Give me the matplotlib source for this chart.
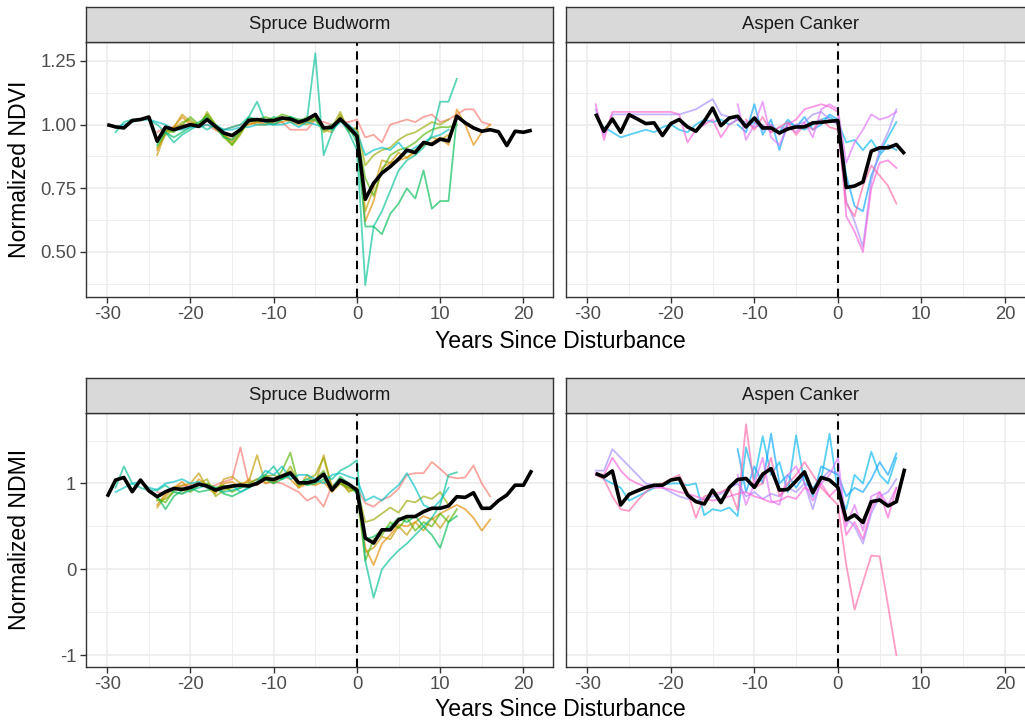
import matplotlib
matplotlib.use("Agg")
import matplotlib.pyplot as plt
import numpy as np

plt.rcParams['font.family'] = ['Liberation Sans', 'DejaVu Sans']
plt.rcParams['axes.unicode_minus'] = False

# ---------------------------------------------------------------- data
facets = ["Spruce Budworm", "Aspen Canker"]
x_label = "Years Since Disturbance"
y_labels = ["Normalized NDVI", "Normalized NDMI"]
x_ticks = [-30, -20, -10, 0, 10, 20]
ndvi_ticks = [0.50, 0.75, 1.00, 1.25]
ndmi_ticks = [-1, 0, 1]

# mean trajectories (black)
sb_mean_start = -30
sb_ndvi_mean = [1.00, 0.991, 0.987, 1.016, 1.02, 1.03, 0.935, 0.99, 0.98, 0.99,
                1.00, 0.993, 1.02, 0.993, 0.967, 0.957, 0.98, 1.017, 1.02, 1.016,
                1.016, 1.026, 1.022, 1.009, 1.02, 1.04, 0.987, 0.99, 1.022, 0.99,
                0.955, 0.707, 0.77, 0.81, 0.835, 0.865, 0.90, 0.89, 0.93, 0.922,
                0.943, 0.936, 1.033, 1.007, 0.987, 0.974, 0.98, 0.972, 0.918, 0.974,
                0.97, 0.978]
sb_ndmi_mean = [0.846, 1.04, 1.07, 0.904, 1.04, 0.915, 0.846, 0.904, 0.942, 0.93,
                0.954, 0.992, 0.97, 0.923, 0.954, 0.97, 0.98, 0.97, 1.00, 1.058,
                1.046, 1.085, 1.123, 1.008, 1.008, 1.03, 1.108, 0.923, 1.04, 0.992,
                0.923, 0.364, 0.306, 0.46, 0.46, 0.576, 0.615, 0.615, 0.672, 0.711,
                0.711, 0.738, 0.846, 0.838, 0.892, 0.711, 0.711, 0.80, 0.865, 0.98,
                0.98, 1.154]
ac_mean_start = -29
ac_ndvi_mean = [1.043, 0.974, 1.022, 0.97, 1.039, 1.022, 1.004, 1.007, 0.957, 1.004,
                1.02, 0.991, 0.974, 1.013, 1.065, 0.996, 1.026, 1.033, 0.991, 1.026,
                0.987, 0.987, 0.967, 0.983, 0.991, 0.991, 1.007, 1.009, 1.013, 1.016,
                0.753, 0.759, 0.775, 0.896, 0.909, 0.909, 0.922, 0.885]
ac_ndmi_mean = [1.116, 1.077, 1.146, 0.75, 0.873, 0.915, 0.954, 0.98, 0.98, 1.04,
                1.058, 0.865, 0.788, 0.761, 0.923, 0.777, 0.954, 1.046, 1.058, 0.954,
                1.108, 1.173, 0.923, 0.93, 1.03, 1.135, 0.892, 1.07, 1.04, 0.954,
                0.576, 0.634, 0.545, 0.788, 0.807, 0.738, 0.788, 1.173]

# Spruce Budworm sites: first year of each series
sb_ndvi_starts = [-24, -24, -24, -24, -24, -24, -29, -29]
sb_ndmi_starts = [-24, -24, -24, -24, -24, -24, -29, -29]

sb_ndvi_s1 = [0.97, 0.99, 0.99, 1.00, 1.00, 0.99, 1.00, 0.98, 0.98, 0.99, 1.00, 1.00,
              1.01, 1.01, 1.00, 1.01, 0.98, 0.98, 0.98, 1.02, 1.01, 1.00, 1.01, 1.01,
              1.02, 0.95, 0.96, 0.93, 1.00, 1.01, 1.02, 1.01, 1.03, 1.04, 1.01, 1.02,
              1.04, 1.06, 1.06, 1.01, 1.00]
sb_ndvi_s2 = [0.90, 0.97, 0.99, 1.03, 1.00, 0.99, 1.03, 0.98, 0.96, 0.94, 0.98, 1.00,
              1.01, 1.00, 1.02, 1.01, 1.02, 1.02, 1.01, 1.02, 0.99, 0.98, 1.02, 0.99,
              0.98, 0.62, 0.70, 0.83, 0.85, 0.86, 0.87, 0.89, 0.92, 0.93, 0.95, 0.92,
              1.06, 1.00, 0.92, 0.97, 1.00]
sb_ndvi_s3 = [0.88, 0.97, 0.99, 1.04, 1.01, 1.00, 1.04, 0.99, 0.96, 0.93, 0.97, 1.01,
              1.00, 1.00, 1.01, 1.03, 1.01, 1.00, 1.01, 1.03, 0.98, 0.97, 1.04, 0.98,
              0.97, 0.66, 0.75, 0.86, 0.85, 0.89, 0.87, 0.90, 0.92, 0.95, 0.94, 0.96]
sb_ndvi_s4 = [0.91, 0.96, 0.98, 1.01, 1.02, 0.99, 1.05, 1.00, 0.95, 0.92, 0.96, 1.02,
              1.01, 1.02, 1.00, 1.02, 1.03, 1.01, 1.00, 1.02, 0.97, 0.99, 1.05, 0.97,
              0.99, 0.84, 0.88, 0.90, 0.91, 0.94, 0.96, 0.97, 0.99, 1.01, 1.00, 1.02]
sb_ndvi_s5 = [0.93, 0.98, 0.97, 1.00, 1.03, 1.00, 1.04, 1.00, 0.96, 0.92, 0.97, 1.01,
              1.02, 1.03, 1.02, 1.04, 1.03, 1.01, 1.03, 1.03, 0.99, 0.98, 1.03, 0.98,
              0.96, 0.79, 0.72, 0.82, 0.88, 0.90, 0.91, 0.93, 0.96, 0.98, 0.99, 0.99, 1.00]
sb_ndvi_s6 = [0.92, 0.97, 0.95, 0.97, 0.99, 1.01, 1.03, 0.99, 0.95, 0.94, 0.98, 1.03,
              1.02, 1.01, 1.03, 1.02, 1.03, 1.02, 1.02, 1.02, 0.98, 1.00, 1.02, 0.99,
              0.93, 0.60, 0.60, 0.57, 0.65, 0.69, 0.75, 0.71, 0.82, 0.67, 0.70, 0.70, 1.03]
sb_ndvi_s7 = [0.97, 1.01, 1.02, 1.02, 1.02, 1.00, 0.97, 0.93, 0.96, 0.98, 1.00, 0.98,
              1.00, 0.98, 0.99, 1.00, 1.03, 1.09, 1.01, 1.00, 1.02, 1.03, 1.01, 1.02,
              1.28, 0.88, 0.97, 1.02, 0.97,
              0.90, 0.37, 0.60, 0.66, 0.74, 0.82, 0.86, 0.88, 0.91, 0.96, 1.09, 1.09, 1.18]
sb_ndvi_s8 = [0.99, 1.00, 1.01, 1.02, 1.02, 1.01, 1.00, 0.98, 0.98, 0.99, 0.99, 1.00,
              0.99, 0.98, 0.98, 0.99, 0.99, 1.00, 1.00, 1.00, 1.00, 1.01, 0.99, 1.01,
              1.00, 0.99, 0.98, 1.01, 1.00,
              0.97, 0.88, 0.90, 0.91, 0.90, 0.93, 0.89, 0.91, 0.93, 0.95, 0.96, 0.98]

sb_ndmi_s1 = [0.90, 0.88, 0.95, 0.97, 0.98, 1.00, 0.95, 0.98, 1.02, 1.05, 1.42, 1.00,
              1.05, 1.00, 1.02, 1.00, 0.95, 0.90, 0.80, 0.85, 0.73, 0.98, 1.00, 0.95,
              0.95, 0.77, 0.73, 0.81, 0.85, 0.94, 1.10, 1.12, 1.12, 1.25, 1.17, 1.08,
              1.06, 1.07, 1.21, 1.00, 0.85]
sb_ndmi_s2 = [0.75, 0.88, 0.95, 1.02, 0.92, 1.05, 0.98, 0.90, 1.00, 1.02, 0.95, 1.05,
              0.98, 1.05, 1.00, 1.10, 1.05, 0.95, 1.00, 0.98, 1.02, 0.90, 1.00, 0.92,
              0.92, 0.25, 0.05, 0.30, 0.40, 0.52, 0.50, 0.55, 0.62, 0.58, 0.65, 0.70,
              0.75, 0.70, 0.60, 0.45, 0.58]
sb_ndmi_s3 = [0.72, 0.85, 0.95, 0.98, 1.00, 1.12, 0.95, 0.88, 1.05, 1.08, 1.00, 1.02,
              1.33, 1.00, 1.05, 1.10, 1.15, 0.95, 1.10, 1.00, 1.33, 0.95, 1.02, 0.95,
              0.93, 0.20, 0.25, 0.38, 0.35, 0.50, 0.40, 0.55, 0.45, 0.60, 0.48, 0.62]
sb_ndmi_s4 = [0.80, 0.82, 0.90, 0.88, 0.95, 1.00, 1.05, 0.85, 0.92, 0.95, 1.00, 0.95,
              1.02, 1.08, 1.10, 1.05, 1.20, 1.00, 1.05, 1.10, 1.30, 0.95, 1.05, 0.90,
              0.95, 0.55, 0.58, 0.65, 0.72, 0.66, 0.80, 0.78, 0.85, 0.82, 0.90, 0.75]
sb_ndmi_s5 = [0.82, 0.78, 0.92, 0.95, 0.90, 0.98, 1.00, 0.95, 0.98, 0.90, 0.95, 1.00,
              1.05, 1.10, 1.02, 1.15, 1.36, 0.98, 1.00, 1.05, 1.15, 0.92, 1.00, 0.95,
              0.90, 0.10, 0.35, 0.40, 0.55, 0.48, 0.60, 0.45, 0.55, 0.50, 0.65, 0.55, 0.70]
sb_ndmi_s6 = [0.85, 0.70, 0.85, 0.92, 0.95, 0.90, 0.92, 0.95, 0.88, 0.85, 0.90, 0.95,
              1.00, 1.05, 1.00, 1.05, 1.10, 1.02, 0.98, 1.00, 1.05, 0.95, 1.08, 1.00,
              0.88, 0.35, 0.38, 0.45, 0.50, 0.60, 0.55, 0.62, 0.50, 0.40, 0.25, 0.55, 0.62]
sb_ndmi_s7 = [0.95, 1.20, 1.00, 0.95, 0.92, 0.92, 0.98, 0.90, 0.88, 0.92, 0.95, 0.98,
              0.95, 0.90, 0.92, 0.95, 0.98, 1.00, 1.10, 1.20, 1.05, 1.10, 1.00, 1.05,
              1.02, 1.10, 1.05, 1.15, 1.20,
              1.27, 0.10, -0.33, 0.00, 0.12, 0.22, 0.30, 0.40, 0.50, 0.60, 0.75, 1.10, 1.13]
sb_ndmi_s8 = [0.90, 0.95, 1.00, 1.02, 0.95, 0.93, 1.00, 1.02, 1.05, 1.00, 1.02, 0.95,
              0.92, 0.95, 0.98, 0.90, 0.95, 1.02, 1.15, 1.10, 1.20, 1.05, 1.10, 1.10,
              1.05, 1.00, 1.10, 1.12, 1.08,
              1.05, 0.80, 0.85, 0.80, 0.90, 0.98, 1.12, 0.95, 0.75, 0.70, 0.80, 0.95]

# Aspen Canker sites
ac_ndvi_starts = [-28, -12, -29, -12, -29, -11]
ac_ndmi_starts = [-28, -12, -29, -12, -29, -29]

ac_ndvi_s1 = [0.99, 0.97, 0.95, 0.96, 0.97, 0.98, 0.97, 0.99, 1.00, 0.98, 0.97, 1.00,
              1.02, 1.01, 1.02, 1.00, 1.02, 0.99, 1.01, 0.98, 1.00, 0.97, 1.02, 0.99,
              0.98, 1.00, 1.02, 1.03,
              1.01, 0.93, 0.94, 0.90, 0.94, 0.89, 0.95, 1.01]
ac_ndvi_s2 = [1.00, 0.97, 1.08, 0.96, 1.02, 0.90, 1.01, 0.99, 1.03, 0.98, 1.00, 1.04,
              1.02, 0.80, 0.68, 0.66, 0.80, 0.88, 0.92, 0.90]
ac_ndvi_s3 = [1.06, 0.96, 1.04, 1.04, 1.04, 1.04, 1.04, 1.04, 1.04, 1.04, 1.04, 1.05,
              1.06, 1.08, 1.10, 1.04, 1.03, 1.02, 1.01, 0.99, 1.00, 0.97, 0.99, 0.98,
              1.00, 1.01, 1.04, 1.05, 1.02,
              1.00, 0.70, 0.62, 0.52, 0.78, 0.90, 0.97, 1.06]
ac_ndvi_s4 = [1.08, 0.94, 1.00, 1.09, 0.95, 0.92, 0.99, 0.97, 1.01, 0.95, 1.06, 1.08,
              1.06, 0.85, 0.93, 0.98, 1.04, 1.02, 1.03, 1.05]
ac_ndvi_s5 = [1.08, 0.94, 1.05, 1.05, 1.05, 1.05, 1.05, 1.05, 1.05, 1.05, 1.04, 0.93,
              0.98, 1.00, 1.02, 0.95, 1.00, 1.02, 1.00, 1.02, 0.98, 1.00, 0.96, 1.00,
              1.02, 1.06, 1.07, 1.08, 1.07,
              1.05, 0.64, 0.58, 0.50, 0.75, 0.85, 0.86, 0.83]
ac_ndvi_s6 = [1.02, 0.98, 1.03, 0.97, 0.99, 1.01, 0.96, 1.00, 0.98, 1.02, 0.99,
              0.98, 0.69, 0.64, 0.76, 0.84, 0.80, 0.76, 0.69]

ac_ndmi_s1 = [1.05, 1.00, 0.95, 0.80, 0.85, 0.90, 0.95, 0.98, 1.00, 1.00, 0.98, 1.00,
              0.63, 0.70, 0.68, 0.72, 0.62, 1.42, 1.05, 1.55, 1.10, 1.25, 0.90, 1.56,
              1.00, 0.95, 1.05, 1.58,
              0.90, 0.70, 1.10, 1.00, 1.37, 1.10, 1.00, 1.30]
ac_ndmi_s2 = [1.40, 0.90, 1.20, 1.00, 1.58, 1.00, 1.10, 0.95, 1.10, 0.85, 1.20, 1.15,
              1.10, 0.85, 0.95, 0.90, 1.05, 1.25, 1.10, 1.35]
ac_ndmi_s3 = [1.15, 1.15, 1.40, 1.30, 1.20, 1.10, 1.00, 0.98, 0.95, 0.90, 0.85, 0.82,
              0.80, 0.82, 0.85, 0.88, 0.95, 1.00, 0.85, 0.90, 0.82, 0.88, 0.85, 0.95,
              0.90, 1.00, 0.70, 1.05, 1.15,
              1.12, 0.60, 0.50, 0.30, 0.65, 0.85, 0.90, 1.05]
ac_ndmi_s4 = [1.10, 0.75, 1.00, 1.30, 0.80, 0.75, 1.10, 1.20, 1.00, 0.80, 1.00, 1.10,
              1.30, 0.50, 0.75, 0.45, 0.85, 0.90, 0.75, 0.95]
ac_ndmi_s5 = [1.12, 1.10, 1.30, 1.15, 1.05, 1.00, 0.96, 0.95, 0.95, 0.93, 0.90, 0.88,
              0.85, 0.82, 0.80, 0.82, 0.85, 0.88, 0.90, 0.85, 0.82, 0.78, 0.80, 0.85,
              0.82, 0.95, 0.90, 1.00, 0.85,
              0.95, 0.40, 0.55, 0.35, 0.70, 0.90, 0.60, 0.95]
ac_ndmi_s6 = [1.10, 1.05, 0.85, 0.70, 0.68, 0.80, 0.90, 0.98, 1.00, 1.05, 1.10, 0.90,
              0.60, 0.85, 0.88, 0.90, 0.95, 0.69, 1.69, 0.95, 1.00, 1.30, 0.85, 1.00,
              1.10, 1.25, 1.10, 0.95, 0.85,
              0.75, 0.05, -0.47, -0.15, 0.16, 0.15, -0.42, -1.00]

sb_ndvi = [sb_ndvi_s1, sb_ndvi_s2, sb_ndvi_s3, sb_ndvi_s4, sb_ndvi_s5, sb_ndvi_s6, sb_ndvi_s7, sb_ndvi_s8]
sb_ndmi = [sb_ndmi_s1, sb_ndmi_s2, sb_ndmi_s3, sb_ndmi_s4, sb_ndmi_s5, sb_ndmi_s6, sb_ndmi_s7, sb_ndmi_s8]
ac_ndvi = [ac_ndvi_s1, ac_ndvi_s2, ac_ndvi_s3, ac_ndvi_s4, ac_ndvi_s5, ac_ndvi_s6]
ac_ndmi = [ac_ndmi_s1, ac_ndmi_s2, ac_ndmi_s3, ac_ndmi_s4, ac_ndmi_s5, ac_ndmi_s6]

# ---------------------------------------------------------------- style
sb_colors = ["#F8766D", "#E38900", "#C49A00", "#99A800", "#53B400", "#00BC56", "#00C094", "#00BFC4"]
ac_colors = ["#00B6EB", "#06A4FF", "#A58AFF", "#DF70F8", "#FB61D7", "#FF66A8"]

W, H = 1025, 724
fig = plt.figure(figsize=(W / 100, H / 100), dpi=100)
fig.patch.set_facecolor("white")


def px_axes(x0, y0, x1, y1):
    return fig.add_axes([x0 / W, 1 - y1 / H, (x1 - x0) / W, (y1 - y0) / H])


def years(start, vals):
    return np.arange(start, start + len(vals))


def expand(values):
    lo, hi = min(values), max(values)
    d = (hi - lo) * 0.05
    return lo - d, hi + d


all_x = []
for st, s in zip(sb_ndvi_starts + sb_ndmi_starts + ac_ndvi_starts + ac_ndmi_starts,
                 sb_ndvi + sb_ndmi + ac_ndvi + ac_ndmi):
    all_x += list(years(st, s))
all_x += list(years(sb_mean_start, sb_ndvi_mean)) + list(years(ac_mean_start, ac_ndvi_mean))
xlim = expand(all_x)

ndvi_all = sum(sb_ndvi + ac_ndvi, []) + sb_ndvi_mean + ac_ndvi_mean
ndmi_all = sum(sb_ndmi + ac_ndmi, []) + sb_ndmi_mean + ac_ndmi_mean
ylim_ndvi = expand(ndvi_all)
ylim_ndmi = expand(ndmi_all)

PANEL_X = [(86, 553), (566, 1034.6)]
ROWS = [dict(strip=(6.5, 41.7), panel=(41.7, 296.7), xtitle_y=341),
        dict(strip=(377.5, 412.7), panel=(412.7, 666.7), xtitle_y=710)]


def draw_panel(ax, series, starts, colors, mean_start, mean, ylim, yticks, ymin, fmt, left):
    ax.set_xlim(xlim)
    ax.set_ylim(ylim)
    ax.set_xticks(x_ticks)
    ax.set_xticks([-25, -15, -5, 5, 15], minor=True)
    ax.set_xticklabels([str(v) for v in x_ticks])
    ax.set_yticks(yticks)
    ax.set_yticks(ymin, minor=True)
    ax.grid(which='major', color='#EBEBEB', lw=1.1, zorder=0)
    ax.grid(which='minor', color='#EBEBEB', lw=0.6, zorder=0)
    ax.set_axisbelow(True)
    ax.tick_params(which='minor', length=0)
    ax.tick_params(which='major', length=4.5, width=1.0, color='#333333',
                   labelsize=13.3, labelcolor='#4D4D4D', pad=2.5)
    if left:
        ax.set_yticklabels([fmt(v) for v in yticks])
    else:
        ax.set_yticklabels([])
        ax.tick_params(axis='y', which='both', length=0, labelleft=False)
    for sp in ax.spines.values():
        sp.set_color('#333333')
        sp.set_linewidth(1.0)
    for st, vals, c in zip(starts, series, colors):
        ax.plot(years(st, vals), vals, color=c, lw=1.3, alpha=0.65,
                solid_joinstyle='round', zorder=2)
    ax.plot(years(mean_start, mean), mean, color='black', lw=2.6,
            solid_joinstyle='round', solid_capstyle='butt', zorder=3)
    ax.axvline(0, color='black', lw=1.5, ls=(0, (4, 2.7)), zorder=4)


def draw_strip(x0, x1, y0, y1, label):
    s = px_axes(x0, y0, x1, y1)
    s.set_facecolor('#D9D9D9')
    s.set_xticks([])
    s.set_yticks([])
    for sp in s.spines.values():
        sp.set_color('#333333')
        sp.set_linewidth(1.0)
    s.text(0.5, 0.5, label, ha='center', va='center', fontsize=13.3,
           color='#1A1A1A', transform=s.transAxes)


row_data = [
    (sb_ndvi, sb_ndvi_starts, sb_ndvi_mean, ac_ndvi, ac_ndvi_starts, ac_ndvi_mean,
     ylim_ndvi, ndvi_ticks, [0.375, 0.625, 0.875, 1.125], lambda v: f"{v:.2f}"),
    (sb_ndmi, sb_ndmi_starts, sb_ndmi_mean, ac_ndmi, ac_ndmi_starts, ac_ndmi_mean,
     ylim_ndmi, ndmi_ticks, [-0.5, 0.5, 1.5], lambda v: f"{int(v)}"),
]

for r, (row, rd) in enumerate(zip(ROWS, row_data)):
    sbs, sbst, sbm, acs, acst, acm, ylim, yt, ym, fmt = rd
    py0, py1 = row['panel']
    sy0, sy1 = row['strip']
    axL = px_axes(PANEL_X[0][0], py0, PANEL_X[0][1], py1)
    draw_panel(axL, sbs, sbst, sb_colors, sb_mean_start, sbm, ylim, yt, ym, fmt, True)
    axR = px_axes(PANEL_X[1][0], py0, PANEL_X[1][1], py1)
    draw_panel(axR, acs, acst, ac_colors, ac_mean_start, acm, ylim, yt, ym, fmt, False)
    draw_strip(PANEL_X[0][0], PANEL_X[0][1], sy0, sy1, facets[0])
    draw_strip(PANEL_X[1][0], PANEL_X[1][1], sy0, sy1, facets[1])
    fig.text((PANEL_X[0][0] + PANEL_X[1][1]) / 2 / W, 1 - row['xtitle_y'] / H, x_label,
             ha='center', va='center', fontsize=16.6, color='black')
    fig.text(20 / W, 1 - (py0 + py1) / 2 / H, y_labels[r], rotation=90,
             ha='center', va='center', fontsize=16.6, color='black')

fig.savefig("out.png", dpi=100, facecolor='white')
